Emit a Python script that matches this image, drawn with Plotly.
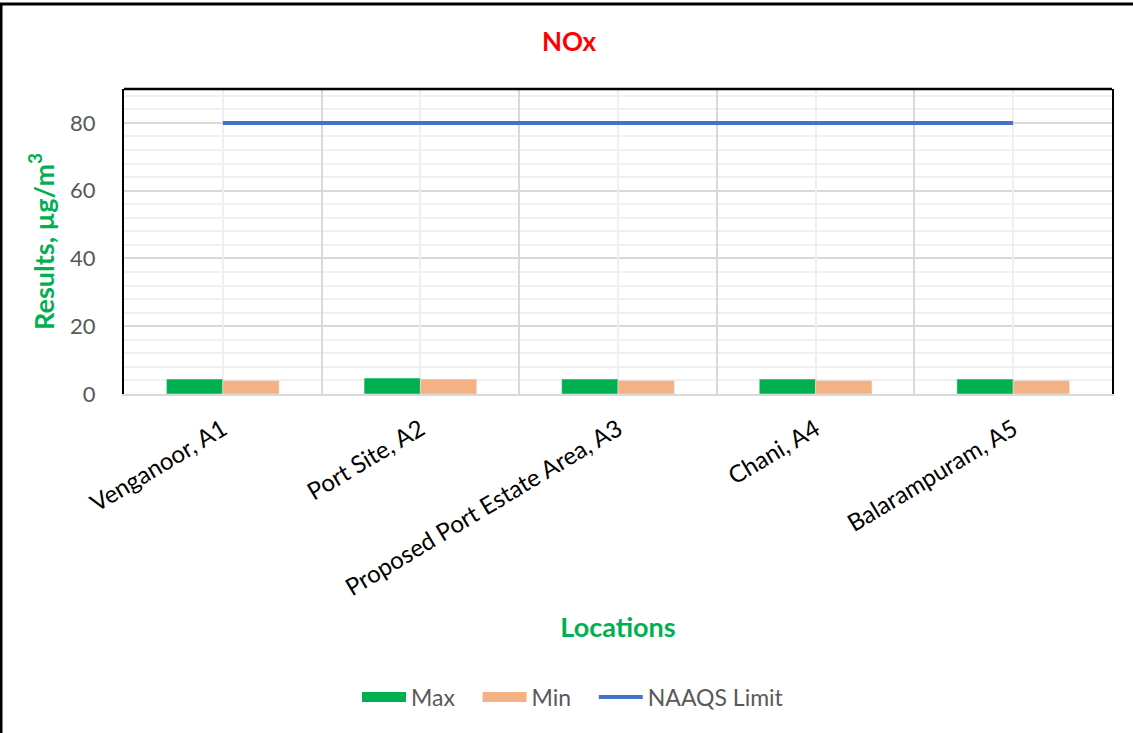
import plotly.graph_objects as go

# data
locations = ["Venganoor, A1", "Port Site, A2", "Proposed Port Estate Area, A3",
             "Chani, A4", "Balarampuram, A5"]
max_values = [4.4, 4.7, 4.4, 4.4, 4.4]
min_values = [4.0, 4.4, 4.0, 4.0, 4.0]
naaqs_limit = [80, 80, 80, 80, 80]

GREEN, PEACH, BLUE = "#00b050", "#f4b183", "#4472c4"
PAD = "\u00a0" * 3  # extra room between legend entries

W, H = 1133, 733
L, R, T, B = 124, 21, 89, 339
pw, ph = W - L - R, H - T - B

fig = go.Figure()
fig.add_trace(go.Bar(x=locations, y=max_values, name="Max", marker_color=GREEN, showlegend=False))
fig.add_trace(go.Bar(x=locations, y=min_values, name="Min", marker_color=PEACH, showlegend=False))
fig.add_trace(go.Scatter(x=locations, y=naaqs_limit, name="NAAQS Limit", mode="lines",
                         line=dict(color=BLUE, width=4), showlegend=False))

# legend entries (wide swatches like the original)
fig.add_trace(go.Scatter(x=[None], y=[None], name="Max" + PAD, mode="lines",
                         line=dict(color=GREEN, width=17)))
fig.add_trace(go.Scatter(x=[None], y=[None], name="Min" + PAD, mode="lines",
                         line=dict(color=PEACH, width=17)))
fig.add_trace(go.Scatter(x=[None], y=[None], name="NAAQS Limit", mode="lines",
                         line=dict(color=BLUE, width=4)))

fig.update_layout(
    width=W, height=H,
    margin=dict(l=L, r=R, t=T, b=B),
    paper_bgcolor="white", plot_bgcolor="white",
    font=dict(family="Lato, Open Sans, sans-serif", color="#595959"),
    title=dict(text="<b>NOx</b>", x=(569 - L) / pw, xref="paper", xanchor="center",
               y=1 - 42 / H, yanchor="middle", font=dict(size=26, color="#ff0000")),
    barmode="group", bargap=0.43, bargroupgap=0,
    showlegend=True,
    legend=dict(orientation="h", x=(357 - L) / pw, xanchor="left", y=-(697 - 394) / ph,
                yanchor="middle", font=dict(size=23, color="#595959"), traceorder="normal",
                itemwidth=44),
    xaxis=dict(type="category", tickson="boundaries", showgrid=True, gridcolor="#d9d9d9",
               gridwidth=1.5, showline=True, linecolor="#d9d9d9", linewidth=2, ticks="",
               tickangle=-31, ticklabelstandoff=10, tickfont=dict(size=24, color="#000000"),
               title=dict(text="<b>Locations</b>", font=dict(size=27, color=GREEN), standoff=18)),
    xaxis2=dict(overlaying="x", range=[-0.5, 4.5], tick0=0, dtick=1, showgrid=True,
                gridcolor="#efefef", gridwidth=1.5, showticklabels=False, ticks="", zeroline=False),
    yaxis=dict(range=[0, 90], dtick=20, showgrid=True, gridcolor="#d9d9d9", gridwidth=1.5,
               zeroline=False, showline=True, linecolor="#000000", linewidth=2, mirror=True,
               ticks="", ticklabelstandoff=22, tickfont=dict(size=22, color="#595959"),
               minor=dict(dtick=4, showgrid=True, gridcolor="#f0f0f0", gridwidth=1.5),
               title=dict(text="<b>Results, µg/m<sup>3</sup></b>", font=dict(size=27, color=GREEN),
                          standoff=8)),
)

# make overlay axis exist without plotting anything visible on it
fig.add_trace(go.Scatter(x=[0], y=[None], xaxis="x2", showlegend=False, hoverinfo="skip"))

# top border of plot area
fig.add_shape(type="line", xref="paper", yref="paper", x0=0, x1=1, y0=1, y1=1,
              line=dict(color="#000000", width=2.5))
# outer chart frame
fig.add_shape(type="rect", xref="paper", yref="paper",
              x0=(1 - L) / pw, x1=(W + 5 - L) / pw,
              y0=-(H + 5 - T - ph) / ph, y1=(H - B - 4) / ph,
              line=dict(color="#000000", width=3), layer="above")

fig.write_html("out.html", config={"displayModeBar": False},
               post_script="document.body.style.margin='0';")
